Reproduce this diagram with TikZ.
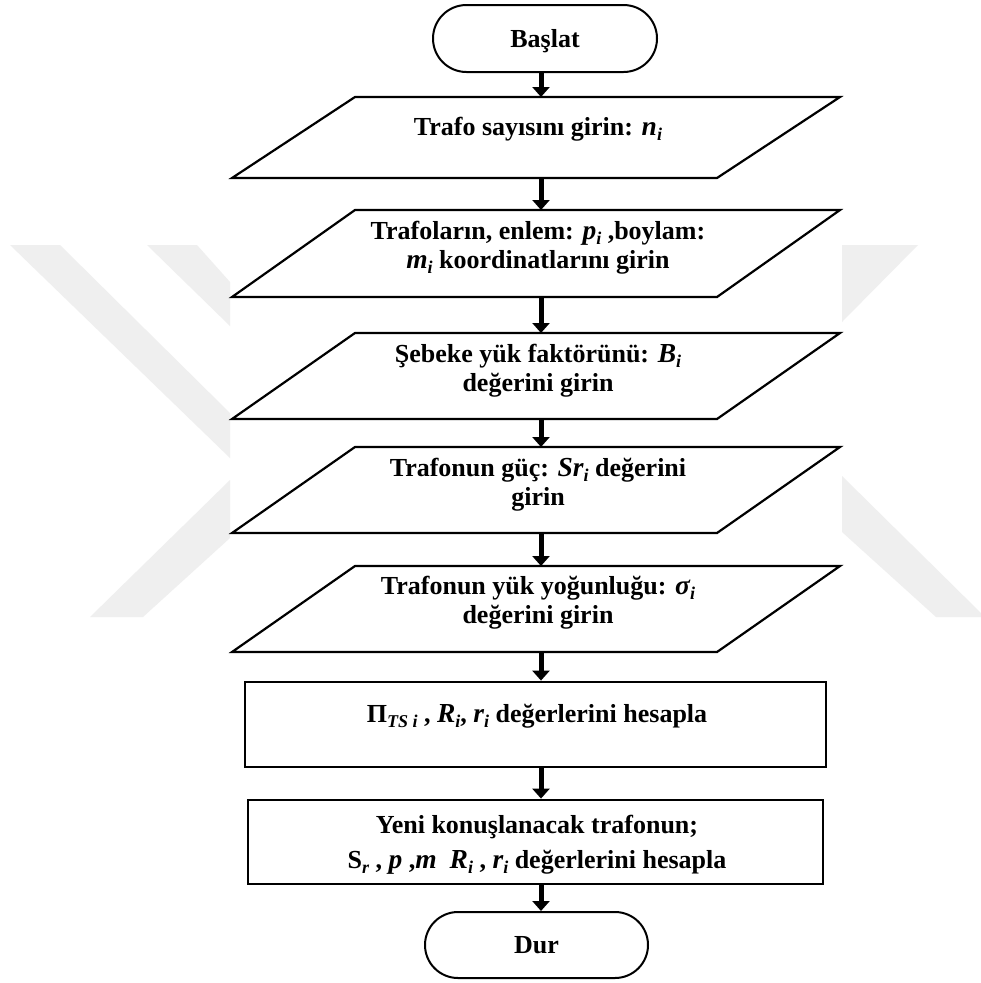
\documentclass[tikz,border=0pt]{standalone}
\usepackage{fontspec}
\setmainfont{Liberation Serif}
\usetikzlibrary{shapes.misc,arrows.meta}
\definecolor{wmgray}{RGB}{239,239,239}
% bold italic variable and its lowered index
\newcommand\mvar[1]{{\fontsize{27.5}{29}\selectfont\bfseries\itshape #1}}
\newcommand\msub[1]{\raisebox{-0.22em}{\fontsize{18}{18}\selectfont\bfseries\itshape #1}}
\begin{document}
\begin{tikzpicture}[x=1pt,y=-1pt,
  term/.style={rounded rectangle, draw, line width=2pt, minimum width=224pt,
    minimum height=67pt, inner sep=0pt, text depth=0pt,
    font=\fontsize{26}{29}\selectfont\bfseries},
  % frame of an input step; the slanted outline is drawn from its corners
  pgram/.style={rectangle, minimum width=485pt, minimum height=#1,
    inner sep=0pt, outer sep=0pt},
  pline/.style={draw, line width=2.2pt, line join=miter},
  procbox/.style={rectangle, draw, line width=2.8pt, inner sep=0pt},
  txt/.style={font=\fontsize{26}{29}\selectfont\bfseries, align=center,
    inner sep=0pt, anchor=base},
  flow/.style={line width=5pt, -{Triangle[length=10pt,width=17pt]}}
]
\useasboundingbox (0,0) rectangle (981,983);
\fill[white] (0,0) rectangle (981,983);

% faint background logo
\begin{scope}[fill=wmgray]
  \fill (10,245) -- (60,245) -- (230,413) -- (230,458) -- cycle;
  \fill (147,245) -- (197,245) -- (230,282) -- (230,326) -- cycle;
  \fill (90,617) -- (143,617) -- (230,538) -- (230,480) -- cycle;
  \fill (842,245) -- (918,245) -- (842,322) -- cycle;
  \fill (842,476) -- (981,613) -- (981,617) -- (936,617) -- (842,532) -- cycle;
\end{scope}

% shapes
\node[term] (start) at (545,38.5) {Başlat};
\node[pgram=81pt] (p1) at (536,137.5) {};
\node[pgram=87pt] (p2) at (536,253.5) {};
\node[pgram=86pt] (p3) at (536,376) {};
\node[pgram=86pt] (p4) at (536,490) {};
\node[pgram=86pt] (p5) at (536,609) {};
\foreach \n in {p1,p2,p3,p4,p5}
  \draw[pline] ([xshift=-61.5pt]\n.south west) -- ([xshift=-61.5pt]\n.south east)
    -- ([xshift=61.5pt]\n.north east) -- ([xshift=61.5pt]\n.north west) -- cycle;
\node[procbox, minimum width=581pt, minimum height=85pt] (r1) at (535.5,724.5) {};
\node[procbox, minimum width=575pt, minimum height=84pt] (r2) at (535.5,842) {};
\node[term, minimum width=223pt, minimum height=66pt] (stop) at (536.5,945) {Dur};

% texts (a node's base is the baseline of its last line)
\node[txt] (p1t) at (538,135) {Trafo sayısını girin: \mvar{n}\msub{i}};
\node[txt] (p2t) at (538,268) {Trafoların, enlem: \mvar{p}\msub{i} ,boylam:\\\mvar{m}\msub{i} koordinatlarını girin};
\node[txt] (p3t) at (538,391) {Şebeke yük faktörünü: \mvar{B}\msub{i}\\değerini girin};
\node[txt] (p4t) at (538,505) {Trafonun güç: \mvar{Sr}\msub{i} değerini\\girin};
\node[txt] (p5t) at (538,623) {Trafonun yük yoğunluğu: \mvar{σ}\msub{i}\\değerini girin};
\node[txt] (r1t) at (537,722) {Π\msub{TS i} , \mvar{R}\msub{i}, \mvar{r}\msub{i} değerlerini hesapla};
\node[txt] (r2t) at (537,868) {Yeni konuşlanacak trafonun;\\[6pt]S\msub{r} , \mvar{p} ,\mvar{m}\ \ \mvar{R}\msub{i} , \mvar{r}\msub{i} değerlerini hesapla};

% connectors
\coordinate (ax) at (541,0);
\draw[flow] (start.south -| ax) -- (p1.north -| ax);
\draw[flow] (p1.south -| ax) -- (p2.north -| ax);
\draw[flow] (p2.south -| ax) -- (p3.north -| ax);
\draw[flow] (p3.south -| ax) -- (p4.north -| ax);
\draw[flow] (p4.south -| ax) -- (p5.north -| ax);
\draw[flow] (p5.south -| ax) -- (r1.north -| ax);
\draw[flow] (r1.south -| ax) -- (r2.north -| ax);
\draw[flow] (r2.south -| ax) -- (stop.north -| ax);
\end{tikzpicture}
\end{document}
